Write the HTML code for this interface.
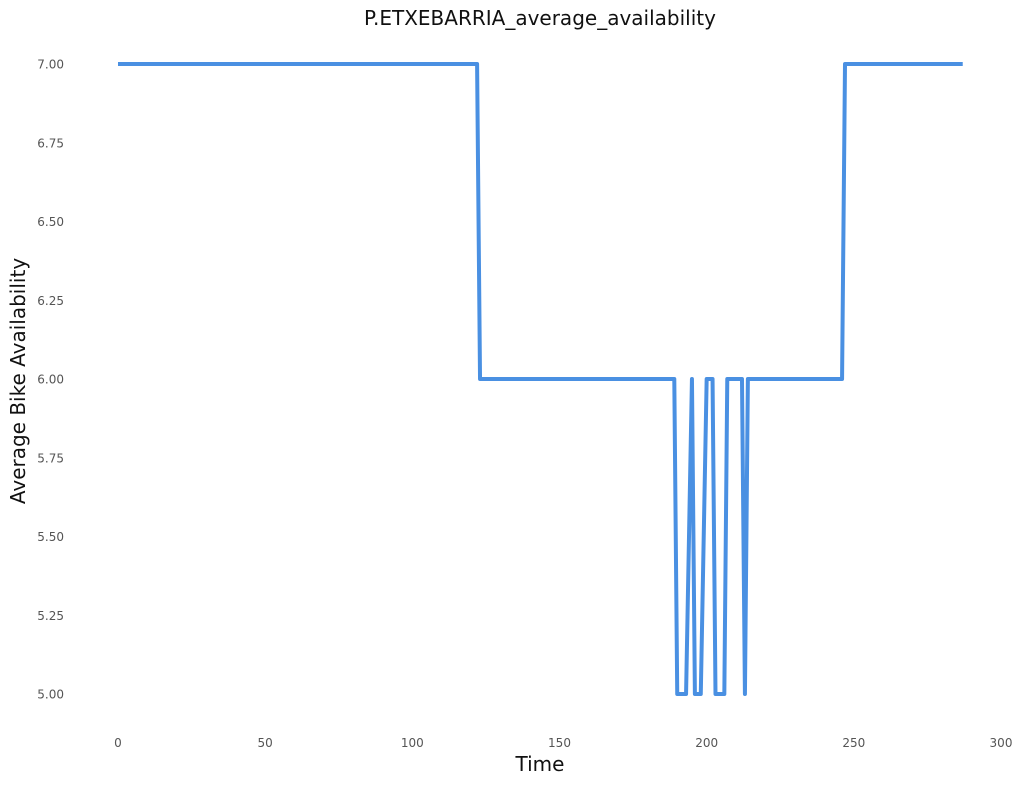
<!DOCTYPE html>
<html><head><meta charset="utf-8"><style>
body{margin:0;background:#fff;font-family:"DejaVu Sans","Liberation Sans",sans-serif}
</style></head><body>
<svg width="1024" height="784" xmlns="http://www.w3.org/2000/svg" font-family="DejaVu Sans, Liberation Sans, sans-serif">
<text x="540" y="25" text-anchor="middle" font-size="20" fill="#111">P.ETXEBARRIA_average_availability</text>
<text x="540" y="771" text-anchor="middle" font-size="20" fill="#111">Time</text>
<text transform="translate(25,381) rotate(-90)" text-anchor="middle" font-size="20" fill="#111">Average Bike Availability</text>
<g id="yt"></g><g id="xt"></g>
<path id="line" fill="none" stroke="#4a90e2" stroke-width="4" stroke-linejoin="round"/>
</svg>
<script>
const timeArr=[0,122,123,189,190,193,195,196,198,200,202,203,206,207,212,213,214,246,247,287];
const valArr=[7,7,6,6,5,5,6,5,5,6,6,5,5,6,6,5,6,6,7,7];
const yTicks=[5.00,5.25,5.50,5.75,6.00,6.25,6.50,6.75,7.00];
const xTicks=[0,50,100,150,200,250,300];
const xs=t=>118+t*(1001-118)/300;
const ys=v=>694-(v-5)*(694-64)/2;
const ns="http://www.w3.org/2000/svg";
const yt=document.getElementById('yt'),xt=document.getElementById('xt');
yTicks.forEach(v=>{const e=document.createElementNS(ns,'text');
e.setAttribute('x',64);e.setAttribute('y',ys(v)+4.5);e.setAttribute('text-anchor','end');
e.setAttribute('font-size','12');e.setAttribute('fill','#555');e.textContent=v.toFixed(2);


yt.appendChild(e);});
xTicks.forEach(v=>{const e=document.createElementNS(ns,'text');
e.setAttribute('x',xs(v));e.setAttribute('y',747);e.setAttribute('text-anchor','middle');
e.setAttribute('font-size','12');e.setAttribute('fill','#555');e.textContent=v;


xt.appendChild(e);});
document.getElementById('line').setAttribute('d',timeArr.map((t,i)=>(i?'L':'M')+xs(t)+','+ys(valArr[i])).join(''));
</script>
</body></html>
